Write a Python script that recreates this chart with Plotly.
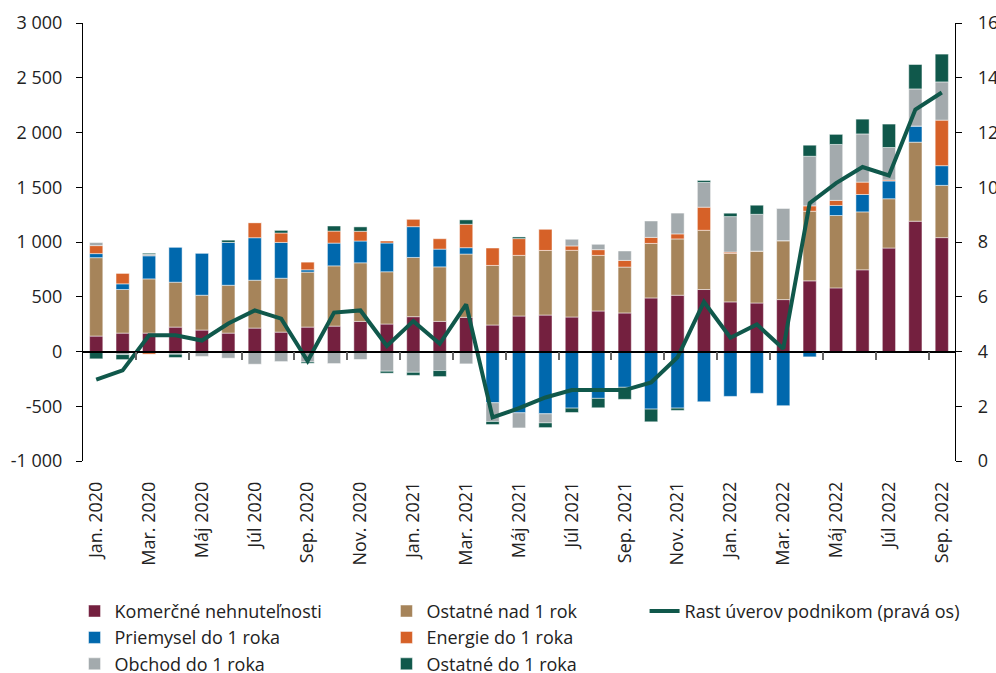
import plotly.graph_objects as go

months = ["Jan. 2020", "Feb. 2020", "Mar. 2020", "Apr. 2020", "Máj 2020", "Jún 2020", "Júl 2020", "Aug. 2020",
          "Sep. 2020", "Okt. 2020", "Nov. 2020", "Dec. 2020",
          "Jan. 2021", "Feb. 2021", "Mar. 2021", "Apr. 2021", "Máj 2021", "Jún 2021", "Júl 2021", "Aug. 2021",
          "Sep. 2021", "Okt. 2021", "Nov. 2021", "Dec. 2021",
          "Jan. 2022", "Feb. 2022", "Mar. 2022", "Apr. 2022", "Máj 2022", "Jún 2022", "Júl 2022", "Aug. 2022",
          "Sep. 2022"]

komercne = [141, 168, 168, 223, 196, 168, 214, 177, 223, 232, 275, 251, 318, 275, 312, 242, 324, 333, 315, 370,
            352, 489, 514, 566, 453, 443, 474, 645, 581, 746, 945, 1190, 1040]
ostatne_nad = [716, 398, 495, 410, 318, 437, 437, 492, 502, 550, 535, 477, 541, 498, 578, 544, 554, 590, 609, 508,
               419, 498, 514, 541, 443, 474, 538, 636, 661, 529, 450, 722, 477]
priemysel = [37, 52, 211, 321, 385, 391, 388, 327, 21, 208, 199, 263, 281, 162, 58, -468, -560, -569, -517, -428,
             -327, -526, -517, -459, -410, -382, -495, -49, 92, 159, 162, 147, 180]
energie = [73, 95, -24, 0, -10, 0, 138, 86, 70, 110, 89, 18, 67, 95, 214, 159, 153, 193, 40, 52,
           61, 55, 46, 211, 12, 0, 0, 49, 46, 113, 9, 0, 416]
obchod = [28, -28, 15, -25, -35, -61, -116, -92, -95, -110, -73, -180, -190, -174, -113, -171, -138, -83, 61, 49,
          86, 150, 190, 226, 324, 336, 297, 453, 511, 440, 297, 339, 349]
ostatne_do = [-67, -46, 9, -30, 0, 21, 0, 24, -12, 46, 40, -18, -28, -55, 40, -28, 15, -43, -40, -86,
              -110, -116, -21, 18, 31, 83, 0, 101, 92, 135, 214, 223, 254]
rast = [2.97, 3.31, 4.59, 4.59, 4.40, 5.02, 5.50, 5.20, 3.65, 5.42, 5.50, 4.20, 5.11, 4.28, 5.72, 1.59, 1.93,
        2.32, 2.59, 2.59, 2.59, 2.87, 3.79, 5.81, 4.50, 4.99, 4.10, 9.42, 10.15, 10.74, 10.43, 12.84, 13.46]

left_tickvals = [-1000, -500, 0, 500, 1000, 1500, 2000, 2500, 3000]
left_ticktext = ["-1 000", "-500", "0", "500", "1 000", "1 500", "2 000", "2 500", "3 000"]
right_tickvals = [0, 2, 4, 6, 8, 10, 12, 14, 16]
x_labels = months[::2]

series = [
    ("Komerčné nehnuteľnosti", komercne, "#74203F", "legend"),
    ("Ostatné nad 1 rok", ostatne_nad, "#A6845A", "legend2"),
    ("Priemysel do 1 roka", priemysel, "#0068AD", "legend"),
    ("Energie do 1 roka", energie, "#D66128", "legend2"),
    ("Obchod do 1 roka", obchod, "#A3AAAD", "legend"),
    ("Ostatné do 1 roka", ostatne_do, "#10584B", "legend2"),
]

FONT = "Open Sans"
FS = 18
TXT = "#222222"

fig = go.Figure()
for i, (name, vals, color, lg) in enumerate(series):
    fig.add_trace(go.Bar(
        x=months, y=vals, name=name, legend=lg, legendgroup=name,
        marker=dict(color=color, line=dict(color="rgba(255,255,255,0.8)", width=0.6)),
    ))

idx = list(range(len(months)))
fig.add_trace(go.Scatter(
    x=idx, y=rast, name="Rast úverov podnikom (pravá os)", mode="lines",
    line=dict(color="#10584B", width=4), xaxis="x2", yaxis="y2", legend="legend3",
))

legend_common = dict(orientation="v", font=dict(family=FONT, size=FS, color=TXT),
                     bgcolor="rgba(0,0,0,0)", yanchor="top", y=-0.301, tracegroupgap=0,
                     traceorder="grouped")

fig.update_layout(
    width=996, height=673,
    margin=dict(l=83, r=41, t=23, b=212, autoexpand=False),
    paper_bgcolor="white", plot_bgcolor="white",
    barmode="relative", bargap=0.5,
    font=dict(family=FONT, size=FS, color=TXT),
    xaxis=dict(
        type="category", categoryorder="array", categoryarray=months,
        range=[-0.5, len(months) - 0.5],
        tickvals=x_labels, ticktext=x_labels, tickangle=-90,
        ticks="", showline=False, showgrid=False, zeroline=False,
        ticklabelstandoff=16, tickfont=dict(family=FONT, size=FS, color=TXT),
        automargin=False,
    ),
    xaxis2=dict(
        overlaying="x", anchor="free", position=0.25, side="bottom",
        range=[-0.5, len(months) - 0.5],
        tickvals=[i + 0.5 for i in range(1, len(months) - 1, 2)],
        ticks="outside", ticklen=8, tickcolor="#666666", tickwidth=1.5,
        showticklabels=False, showline=True, linecolor="black", linewidth=1.5,
        showgrid=False, zeroline=False,
    ),
    yaxis=dict(
        range=[-1000, 3000], tickvals=left_tickvals, ticktext=left_ticktext,
        ticks="outside", ticklen=6, tickcolor="black", tickwidth=1.2,
        showline=True, linecolor="black", linewidth=1.2,
        showgrid=False, zeroline=False, ticklabelstandoff=10,
        tickfont=dict(family=FONT, size=FS, color=TXT), automargin=False,
    ),
    yaxis2=dict(
        overlaying="y", side="right", anchor="x", range=[0, 16], tickvals=right_tickvals,
        ticks="outside", ticklen=6, tickcolor="black", tickwidth=1.2,
        showline=True, linecolor="black", linewidth=1.2,
        showgrid=False, zeroline=False, ticklabelstandoff=12,
        ticklabeloverflow="allow",
        tickfont=dict(family=FONT, size=FS, color=TXT), automargin=False,
    ),
    legend=dict(x=-0.0097, xanchor="left", **legend_common),
    legend2=dict(x=0.348, xanchor="left", **legend_common),
    legend3=dict(x=0.644, xanchor="left", **legend_common),
    showlegend=True,
)

fig.write_html(
    "out.html",
    config={"displayModeBar": False},
    post_script="document.body.style.margin='0';document.body.style.overflow='hidden';"
                "document.documentElement.style.overflow='hidden';",
)
